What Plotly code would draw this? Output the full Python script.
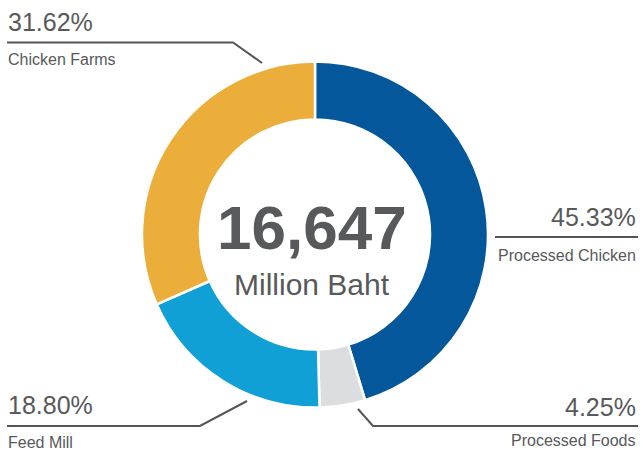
import plotly.graph_objects as go

W, H = 643, 453

labels = ["Processed Chicken", "Processed Foods", "Feed Mill", "Chicken Farms"]
values = [45.33, 4.25, 18.80, 31.62]
colors = ["#03579a", "#dcdddf", "#11a0d6", "#ecae3b"]
total_value = "16,647"
total_unit = "Million Baht"

TXT = "#58595b"
FONT = "Liberation Sans, Arial, sans-serif"


def px(x):
    return x / W


def py(y):
    return 1 - y / H


# pie geometry (pixels)
cx, cy, r = 315, 234.5, 173

fig = go.Figure(go.Pie(
    labels=labels,
    values=values,
    marker=dict(colors=colors, line=dict(color="white", width=2.5)),
    hole=0.665,
    sort=False,
    direction="clockwise",
    rotation=0,
    textinfo="none",
    hoverinfo="label+percent",
    showlegend=False,
    domain=dict(x=[px(cx - r), px(cx + r)], y=[py(cy + r), py(cy - r)]),
))

# label layout: (pct text, name, side, text x, pct mid y, name mid y, leader polyline)
label_layout = [
    (f"{values[3]:.2f}%", labels[3], "left", 6, 22, 59,
     [(7, 42.5), (233, 42.5), (262, 63)]),
    (f"{values[0]:.2f}%", labels[0], "right", 638, 216.5, 255,
     [(495, 237), (638, 237)]),
    (f"{values[2]:.2f}%", labels[2], "left", 6, 405, 442.5,
     [(7, 426), (200, 426), (247, 401)]),
    (f"{values[1]:.2f}%", labels[1], "right", 638, 407, 440.5,
     [(638, 426), (373, 426), (358, 409)]),
]

annotations = []
shapes = []
for pct, name, side, tx, pmid, nmid, pts in label_layout:
    annotations.append(dict(
        x=px(tx), y=py(pmid), xref="paper", yref="paper", text=pct,
        showarrow=False, xanchor=side, yanchor="middle",
        font=dict(family=FONT, size=25, color=TXT)))
    annotations.append(dict(
        x=px(tx), y=py(nmid), xref="paper", yref="paper", text=name,
        showarrow=False, xanchor=side, yanchor="middle",
        font=dict(family=FONT, size=16, color=TXT)))
    path = "M " + " L ".join(f"{px(x)},{py(y)}" for x, y in pts)
    shapes.append(dict(type="path", path=path, xref="paper", yref="paper",
                       line=dict(color="#555557", width=2)))

annotations.append(dict(
    x=px(cx - 3), y=py(227), xref="paper", yref="paper",
    text=f"<b>{total_value}</b>", showarrow=False,
    xanchor="center", yanchor="middle",
    font=dict(family=FONT, size=62, color=TXT)))
annotations.append(dict(
    x=px(cx - 3), y=py(284), xref="paper", yref="paper",
    text=total_unit, showarrow=False,
    xanchor="center", yanchor="middle",
    font=dict(family=FONT, size=30, color=TXT)))

fig.update_layout(
    width=W, height=H,
    margin=dict(l=0, r=0, t=0, b=0),
    paper_bgcolor="white", plot_bgcolor="white",
    annotations=annotations, shapes=shapes,
)

fig.write_html("out.html")
